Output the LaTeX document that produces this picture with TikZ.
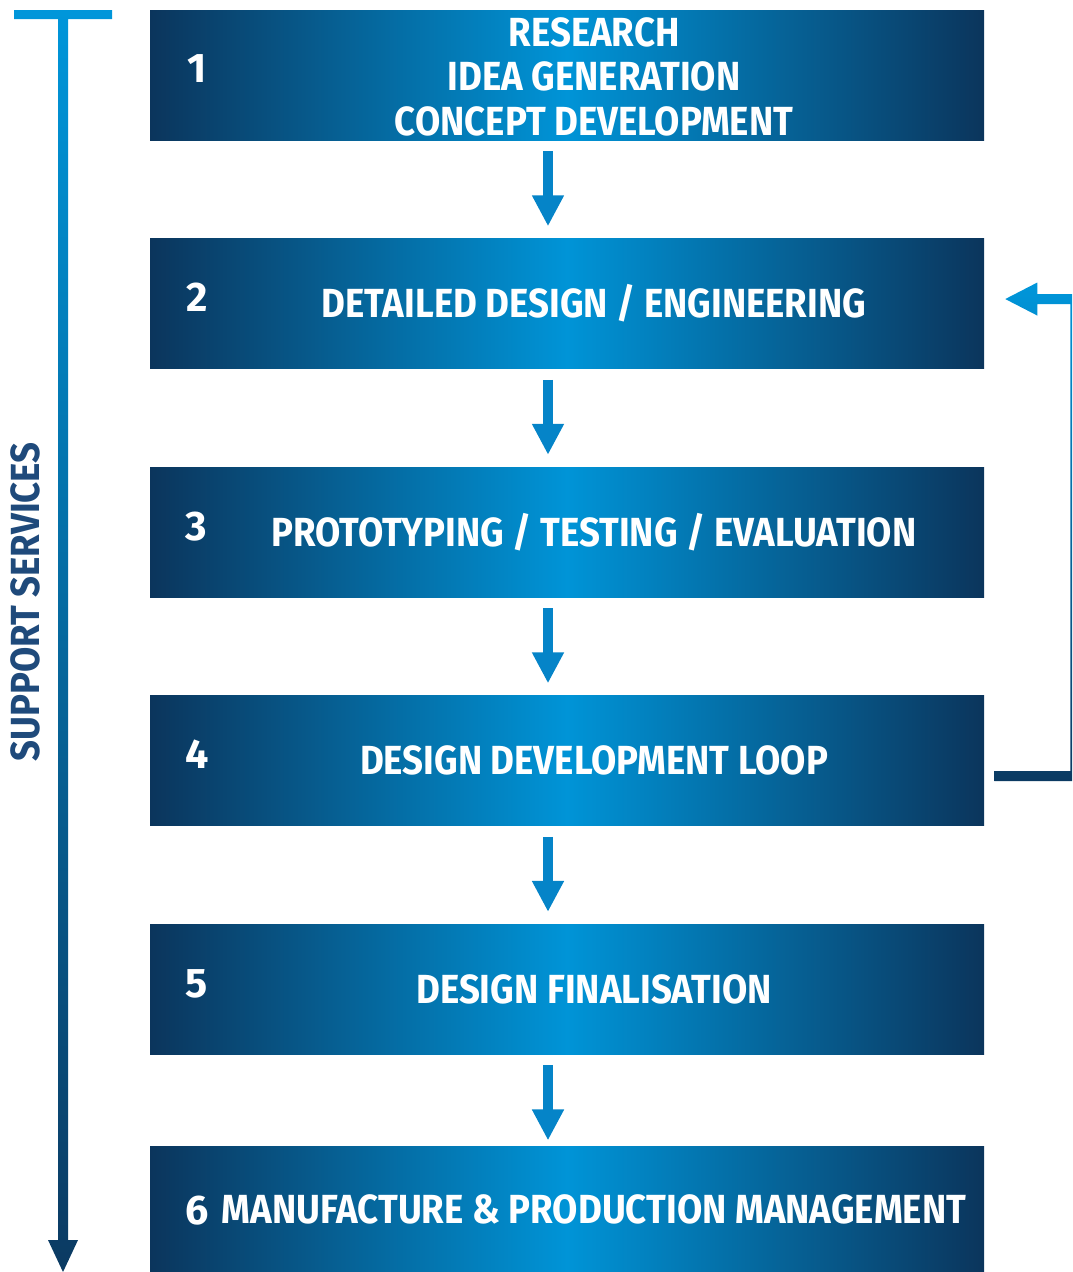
\documentclass[tikz,border=0pt]{standalone}
\usepackage{fontspec}
\newfontfamily\stepfont[FakeStretch=0.9]{Fira Sans}
\newfontfamily\numfont{Fira Sans}
\usetikzlibrary{positioning, calc, arrows.meta}
\definecolor{boxdark}{HTML}{0B355C}
\definecolor{boxlight}{HTML}{0094D7}
\definecolor{arrowblue}{HTML}{0584C8}
\definecolor{barlight}{HTML}{0096DA}
\definecolor{barnavy}{HTML}{0B3A62}
\definecolor{labelnavy}{HTML}{1F4A7B}

\begin{document}
\begin{tikzpicture}[x=0.75pt, y=-0.75pt,
		stepbox/.style={minimum width=625.5pt, minimum height=97.5pt, inner sep=0pt,
			left color=boxdark, right color=boxdark, middle color=boxlight},
		steptext/.style={text=white, font=\stepfont\bfseries\fontsize{30.5}{33.4}\selectfont,
			inner sep=0pt, anchor=base},
		stepnum/.style={steptext, font=\numfont\bfseries\fontsize{31}{33.4}\selectfont},
		steparrow/.style={draw=arrowblue, line width=7.5pt,
			-{Triangle[width=22.5pt, length=23.25pt]}, shorten <=8.25pt} ]
		\useasboundingbox (0,0) rectangle (1072,1272);
		\clip (0,0) rectangle (1072,1272);

		% the six stages
		\node[stepbox] (box1) at (567,75) {};
		\node[stepbox, below=73.5pt of box1] (box2) {};
		\node[stepbox, below=73.5pt of box2] (box3) {};
		\node[stepbox, below=73.5pt of box3] (box4) {};
		\node[stepbox, below=73.5pt of box4] (box5) {};
		\node[stepbox, below=69pt of box5] (box6) {};

		\node[steptext, anchor=center, align=center] (text1) at ($(box1.center)+(27,1.5)$)
			{RESEARCH\\IDEA GENERATION\\CONCEPT DEVELOPMENT};
		\node[steptext] (text2) at ($(box2.center)+(27,14)$) {DETAILED DESIGN / ENGINEERING};
		\node[steptext] (text3) at ($(box3.center)+(27,14)$) {PROTOTYPING / TESTING / EVALUATION};
		\node[steptext] (text4) at ($(box4.center)+(27,14)$) {DESIGN DEVELOPMENT LOOP};
		\node[steptext] (text5) at ($(box5.center)+(27,14)$) {DESIGN FINALISATION};
		\node[steptext] (text6) at ($(box6.center)+(27,12)$) {MANUFACTURE \& PRODUCTION MANAGEMENT};

		\node[stepnum] (num1) at ($(box1.west)+(47,7)$) {1};
		\node[stepnum] (num2) at ($(box2.west)+(47,8)$) {2};
		\node[stepnum] (num3) at ($(box3.west)+(47,8)$) {3};
		\node[stepnum] (num4) at ($(box4.west)+(47,8)$) {4};
		\node[stepnum] (num5) at ($(box5.west)+(47,8)$) {5};
		\node[stepnum] (num6) at ($(box6.west)+(47,13)$) {6};

		\foreach \a/\b/\gap in {1/2/9pt, 2/3/9pt, 3/4/9pt, 4/5/9pt, 5/6/4.5pt}
			\draw[steparrow, shorten >=\gap] ($(box\a.south)+(-19,0)$) -- ($(box\b.north)+(-19,0)$);

		% support services bar
		\shade[top color=barlight, middle color=barlight!90!barnavy, bottom color=barnavy]
			(14,10) -- (112,10) -- (112,19) -- (68,19) -- (68,1240) -- (78,1240) -- (63,1272)
			-- (48,1240) -- (58,1240) -- (58,19) -- (14,19) -- cycle;
		\node[steptext, rotate=90, text=labelnavy] (support) at (40,602) {SUPPORT SERVICES};

		% loop back from 4 to 2
		\coordinate (loopstart) at ($(box4.east)+(10,15.5)$);
		\coordinate (loopend) at ($(box2.east)+(21,-4.5)$);
		\shade[top color=barlight, bottom color=barnavy]
			($(loopstart)+(0,5)$) -- ++(86,0) |- ($(loopend)+(32,-5)$) -- ++(0,-11.5) -- (loopend)
			-- ++(32,16.5) -- ++(0,-11.5) -- ++(33,0) |- ($(loopstart)+(0,-5)$) -- cycle;
	\end{tikzpicture}
\end{document}
